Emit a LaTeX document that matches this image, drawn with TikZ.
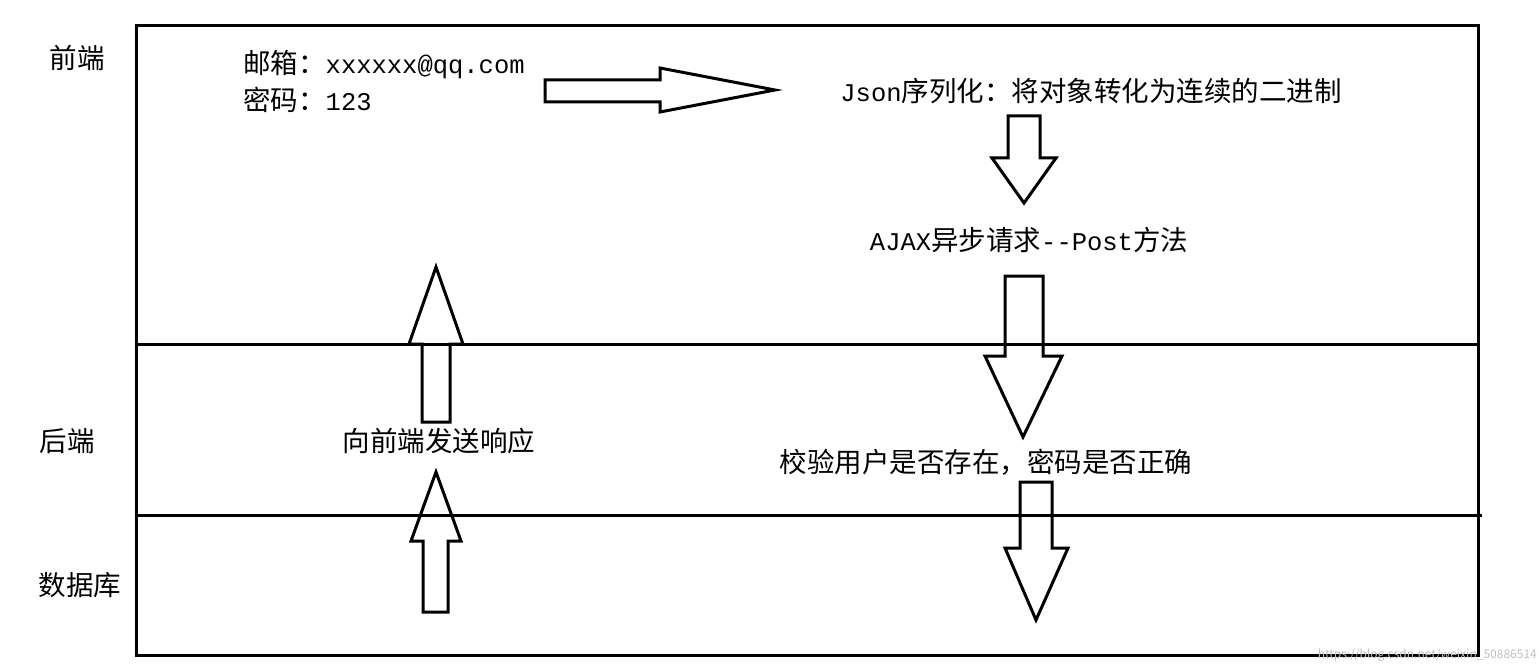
\documentclass[tikz,border=0pt]{standalone}
\usepackage{fontspec}
\setmainfont{Noto Sans CJK SC}
\newfontfamily\latm{Liberation Mono}
\newcommand{\lat}[1]{{\latm\fontsize{25.5}{25.5}\selectfont #1}}
\begin{document}
\begin{tikzpicture}[x=1pt,y=-1pt,
  box/.style={line width=3pt},
  arr/.style={line width=3pt,line join=miter},
  txt/.style={font=\fontsize{27.5}{31}\selectfont,inner sep=0pt}]
\useasboundingbox (0,0) rectangle (1539,671);
% lanes
\draw[box] (136,26) rectangle (1478,655);
\draw[box] (136,344) -- (1478,344);
\draw[box] (136,515) -- (1482,515);
% lane labels
\node[txt] (fe) at (77,58) {前端};
\node[txt] (be) at (67,441) {后端};
\node[txt] (db) at (80,585) {数据库};
% texts
\node[txt,anchor=west] (mail) at (243,65) {邮箱：\lat{xxxxxx@qq.com}};
\node[txt,anchor=west] (pwd) at (243,100) {密码：\lat{123}};
\node[txt] (json) at (1091,91) {\lat{Json}序列化：将对象转化为连续的二进制};
\node[txt] (ajax) at (1029,240) {\lat{AJAX}异步请求\lat{--Post}方法};
\node[txt] (resp) at (439,441) {向前端发送响应};
\node[txt] (check) at (986,462) {校验用户是否存在，密码是否正确};
\node[font=\fontsize{12}{12}\selectfont,text=gray!50,anchor=south east,inner sep=2pt] (wm) at (1539,664) {https://blog.csdn.net/weixin\_50886514};
% arrows
\draw[arr] (545,80) -- (660,80) -- (660,68) -- (775,90) -- (660,112) -- (660,102) -- (545,102) -- cycle;
\draw[arr] (1008,116) -- (1040,116) -- (1040,158) -- (1056,158) -- (1024,203) -- (992,158) -- (1008,158) -- cycle;
\draw[arr] (1005,276) -- (1043,276) -- (1043,356) -- (1062,356) -- (1023,437) -- (985,356) -- (1005,356) -- cycle;
\draw[arr] (1020,482) -- (1052,482) -- (1052,548) -- (1068,548) -- (1036,620) -- (1005,548) -- (1020,548) -- cycle;
\draw[arr] (422,422) -- (450,422) -- (450,344) -- (463,344) -- (436,267) -- (409,344) -- (422,344) -- cycle;
\draw[arr] (423,612) -- (448,612) -- (448,541) -- (461,541) -- (436,472) -- (411,541) -- (423,541) -- cycle;
\end{tikzpicture}
\end{document}
